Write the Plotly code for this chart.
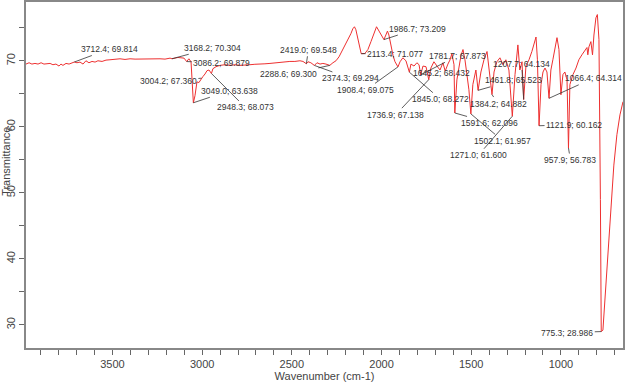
import plotly.graph_objects as go

# Spectrum trace (wavenumber cm-1, transmittance %)
wavenumber = [3982, 3965, 3949, 3932, 3915, 3898, 3882, 3865, 3848, 3832, 3815, 3798, 3787, 3776, 3759, 3742,
              3726, 3712.4, 3698, 3681, 3664, 3648, 3631, 3614, 3597, 3581, 3558, 3536, 3514, 3486, 3458, 3430,
              3402, 3374, 3347, 3319, 3291, 3263, 3235, 3207, 3179, 3168.2, 3152, 3135, 3118, 3101, 3086.2, 3074,
              3062, 3049.0, 3040, 3029, 3018, 3004.2, 2996, 2984, 2973, 2962, 2948.3, 2940, 2923, 2901, 2873, 2845,
              2817, 2789, 2761, 2734, 2706, 2678, 2650, 2622, 2594, 2566, 2538, 2511, 2483, 2455, 2438, 2419.0,
              2410, 2394, 2374.3, 2360, 2343, 2327, 2310, 2288.6, 2271, 2254, 2237, 2221, 2204, 2187, 2171, 2160,
              2151, 2143, 2132, 2120, 2113.4, 2093, 2076, 2059, 2042, 2028, 2014, 2001, 1986.7, 1976, 1967, 1959,
              1948, 1936, 1925, 1914, 1908.4, 1897, 1881, 1864, 1845.0, 1836, 1819, 1803, 1791, 1781.7, 1769, 1752,
              1736.9, 1725, 1708, 1691, 1674, 1658, 1645.2, 1630, 1619, 1608, 1596, 1591.6, 1580, 1569, 1557, 1546,
              1535, 1524, 1513, 1502.1, 1491, 1474, 1461.8, 1446, 1429, 1412, 1401, 1384.2, 1373, 1357, 1340, 1323,
              1307, 1290, 1271.0, 1256, 1240, 1229, 1217, 1207.7, 1195, 1178, 1162, 1150, 1139, 1131, 1121.9, 1111,
              1100, 1089, 1078, 1066.4, 1056, 1045, 1034, 1022, 1011, 1000, 989, 978, 966, 957.9, 950, 933, 916,
              900, 883, 866, 855, 850, 844, 833, 824, 816, 805, 797, 788, 780, 775.3, 766, 755, 738, 721, 705, 688,
              671, 654]
transmittance = [69.5, 69.7, 69.5, 69.6, 69.5, 69.7, 69.5, 69.5, 69.6, 69.4, 69.5, 69.2, 69.5, 69.3, 69.6, 69.5,
                 69.7, 69.814, 69.7, 69.8, 69.5, 70.0, 69.7, 69.9, 69.8, 70.0, 69.9, 70.1, 70.15, 70.2, 70.3, 70.2,
                 70.3, 70.25, 70.27, 70.2, 70.27, 70.24, 70.3, 70.25, 70.4, 70.304, 70.45, 70.5, 70.45, 70.4, 69.879, 70.3,
                 69.85, 63.638, 64.7, 66.8, 66.7, 67.360, 67.6, 68.0, 68.5, 68.6, 68.073, 68.8, 69.1, 69.3, 69.4, 69.3,
                 69.4, 69.3, 69.4, 69.4, 69.47, 69.47, 69.54, 69.6, 69.7, 69.77, 69.85, 69.9, 69.9, 70.0, 69.9, 69.548,
                 69.85, 69.7, 69.294, 69.7, 69.5, 69.6, 69.5, 69.300, 69.7, 70.0, 70.6, 71.4, 72.3, 73.2, 74.1, 74.85,
                 75.15, 74.7, 73.2, 71.7, 71.077, 71.1, 71.7, 72.9, 74.24, 75.15, 74.5, 73.8, 73.209, 73.9, 74.5, 73.9,
                 72.3, 70.8, 69.85, 69.4, 69.075, 69.85, 70.45, 70.0, 68.272, 69.5, 69.2, 69.7, 69.4, 67.873, 69.2, 69.1,
                 67.138, 68.9, 69.85, 69.2, 68.6, 69.7, 68.432, 69.5, 70.1, 71.06, 69.4, 62.096, 67.1, 68.9, 70.8, 71.7,
                 70.15, 67.9, 65.6, 61.957, 66.4, 68.6, 65.523, 68.3, 70.15, 71.4, 68.6, 64.882, 68.3, 69.85, 70.45, 69.4,
                 70.15, 68.6, 61.600, 67.9, 72.4, 68.6, 69.85, 64.134, 69.2, 70.15, 71.4, 72.7, 73.6, 70.15, 60.162, 66.4,
                 68.3, 68.9, 68.3, 64.314, 68.6, 70.15, 71.7, 73.5, 71.7, 64.85, 67.9, 68.3, 67.1, 56.783, 66.4, 67.9, 68.9,
                 70.15, 70.9, 71.7, 72.0, 70.9, 72.1, 72.9, 70.9, 73.9, 76.5, 77.0, 73.2, 49.0, 28.986, 29.2, 33.8, 41.4,
                 48.9, 54.2, 58.8, 61.8, 63.8]

# Peak labels
peak_wn = [3712.4, 3168.2, 3086.2, 3004.2, 3049.0, 2948.3, 2419.0, 2288.6, 2374.3, 1986.7, 2113.4, 1908.4, 1736.9,
           1845.0, 1781.7, 1645.2, 1591.6, 1502.1, 1461.8, 1384.2, 1271.0, 1207.7, 1121.9, 1066.4, 957.9, 775.3]
peak_t = [69.814, 70.304, 69.879, 67.360, 63.638, 68.073, 69.548, 69.300, 69.294, 73.209, 71.077, 69.075, 67.138,
          68.272, 67.873, 68.432, 62.096, 61.957, 65.523, 64.882, 61.600, 64.134, 60.162, 64.314, 56.783, 28.986]

# label text offsets in pixels (layout only)
label_offsets = [(35, -13), (41, -11), (35, 1), (-33, 3), (36, -12), (34, 34), (2, -14), (-41, 9), (36, 13),
                 (34, -11), (34, 0), (-32, 23), (-33, 35), (31, 27), (37, -19), (-4, 2), (35, 10), (32, 27),
                 (35, -10), (6, 9), (-34, 39), (-2, -36), (35, -1), (44, -20), (2, 12), (-34, 1)]

FONT = "Liberation Sans, Arial, sans-serif"

fig = go.Figure()
fig.add_trace(go.Scatter(x=wavenumber, y=transmittance, mode="lines",
                         line=dict(color="#ee3030", width=1), hoverinfo="skip", showlegend=False))

annotations = []
for w, t, (ax, ay) in zip(peak_wn, peak_t, label_offsets):
    annotations.append(dict(x=w, y=t, xref="x", yref="y", text=f"{w:.1f}; {t:.3f}",
                            showarrow=True, arrowhead=0, arrowwidth=0.8, arrowcolor="#333333",
                            ax=ax, ay=ay, standoff=0, startstandoff=0,
                            font=dict(family=FONT, size=8.5, color="#333333")))
annotations.append(dict(x=-0.034, y=0.54, xref="paper", yref="paper", text="Transmittance",
                        showarrow=False, textangle=-90, xanchor="center", yanchor="middle",
                        font=dict(family=FONT, size=11, color="#444444")))

fig.update_layout(
    width=625, height=388,
    margin=dict(l=26, r=2, t=2, b=40, autoexpand=False),
    paper_bgcolor="white", plot_bgcolor="white",
    font=dict(family=FONT, size=11, color="#444444"),
    annotations=annotations,
    xaxis=dict(range=[3982, 654], showgrid=False, zeroline=False,
               showline=True, linecolor="#888888", linewidth=1.5, mirror=True,
               ticks="outside", ticklen=5, tickcolor="#666666", dtick=500, tick0=0,
               minor=dict(dtick=100, ticks="outside", ticklen=5, tickcolor="#666666"),
               tickfont=dict(size=11, color="#444444"),
               title=dict(text="Wavenumber (cm-1)", standoff=2, font=dict(size=11, color="#444444"))),
    yaxis=dict(range=[26.5, 78.9], showgrid=False, zeroline=False,
               showline=True, linecolor="#888888", linewidth=1.5, mirror=True,
               ticks="outside", ticklen=5, tickcolor="#666666", dtick=10, tick0=0,
               minor=dict(dtick=5, ticks="outside", ticklen=5, tickcolor="#666666"),
               tickangle=-90, tickfont=dict(size=11, color="#444444")),
)

fig.write_html("out.html", config={"displayModeBar": False},
               post_script="document.body.style.margin='0';document.body.style.overflow='hidden';")
